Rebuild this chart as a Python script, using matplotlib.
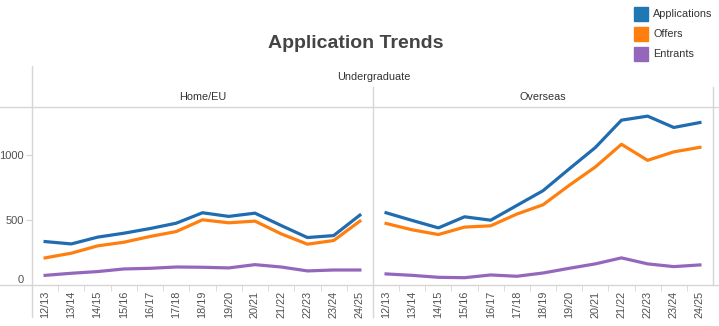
import matplotlib.pyplot as plt
from matplotlib.lines import Line2D
from matplotlib.patches import Rectangle

plt.rcParams['font.family'] = ['Liberation Sans', 'DejaVu Sans']

years = ['12/13', '13/14', '14/15', '15/16', '16/17', '17/18', '18/19',
         '19/20', '20/21', '21/22', '22/23', '23/24', '24/25']

home_applications = [333, 315, 367, 397, 433, 474, 554, 526, 551, 456, 364, 379, 536]
home_offers = [208, 244, 300, 328, 372, 410, 500, 477, 490, 392, 313, 341, 490]
home_entrants = [74, 90, 103, 123, 128, 138, 136, 131, 156, 138, 108, 115, 115]

overseas_applications = [554, 495, 438, 523, 497, 610, 723, 890, 1054, 1264, 1295, 1208, 1246]
overseas_offers = [472, 423, 387, 444, 454, 544, 615, 764, 905, 1079, 956, 1021, 1056]
overseas_entrants = [85, 74, 59, 56, 77, 67, 92, 128, 162, 208, 162, 141, 154]

series_names = ['Applications', 'Offers', 'Entrants']
colors = ['#1f6cb0', '#ff7f0e', '#9467bd']
legend_colors = ['#1f77b4', '#ff7f0e', '#9467bd']

W, H = 719, 326
fig = plt.figure(figsize=(W / 100, H / 100), dpi=100)
grid = '#d6d6d6'
txt = '#333333'


def fx(px):
    return px / W


def fy(py):
    return 1 - py / H


panels = [
    ('Home/EU', 32, 373, [home_applications, home_offers, home_entrants]),
    ('Overseas', 373, 713, [overseas_applications, overseas_offers, overseas_entrants]),
]

for i, (name, x0, x1, data) in enumerate(panels):
    ax = fig.add_axes([fx(x0), fy(285), fx(x1 - x0), fy(107) - fy(285)])
    xs = list(range(len(years)))
    for vals, c in zip(data, colors):
        ax.plot(xs, vals, color=c, lw=2.3, solid_joinstyle='round')
    ax.set_xlim(-0.5, len(years) - 0.5)
    ax.set_ylim(0, 1365)
    for s in ax.spines.values():
        s.set_visible(False)
    ax.set_xticks(xs)
    ax.set_xticklabels(years, rotation=90, fontsize=7.8, color='#505050')
    ax.tick_params(axis='x', length=0, pad=4)
    ax.set_xticks([x + 0.5 for x in xs[:-1]], minor=True)
    ax.tick_params(axis='x', which='minor', length=4, color=grid, direction='out')
    if i == 0:
        ax.set_yticks([0, 500, 1000])
        ax.set_yticklabels(['0', '500', '1000'], fontsize=8, color='#505050')
        ax.tick_params(axis='y', length=4, color=grid, pad=2)
        ax.get_yticklabels()[0].set_va('bottom')
    else:
        ax.set_yticks([])
    ax.patch.set_alpha(0)
    fig.text(fx((x0 + x1) / 2), fy(97), name, ha='center', va='center',
             fontsize=7.8, color=txt)

# frame lines
fig.add_artist(Line2D([0, 1], [fy(107), fy(107)], color=grid, lw=1))
fig.add_artist(Line2D([0, 1], [fy(285), fy(285)], color=grid, lw=1))
fig.add_artist(Line2D([fx(32), fx(32)], [fy(66), fy(317)], color=grid, lw=1))
fig.add_artist(Line2D([fx(373), fx(373)], [fy(87), fy(317)], color=grid, lw=1))
fig.add_artist(Line2D([fx(713), fx(713)], [fy(87), fy(285)], color=grid, lw=1))

fig.text(fx(374), fy(77), 'Undergraduate', ha='center', va='center',
         fontsize=7.8, color=txt)
fig.text(fx(356), fy(44), 'Application Trends', ha='center', va='center',
         fontsize=14, fontweight='bold', color='#444444')

# legend
for k, (nm, c) in enumerate(zip(series_names, legend_colors)):
    yc = 14 + 20 * k
    fig.add_artist(Rectangle((fx(634), fy(yc + 7)), fx(14), fy(yc - 7) - fy(yc + 7),
                             color=c, transform=fig.transFigure))
    fig.text(fx(653), fy(yc), nm, ha='left', va='center', fontsize=7.8, color=txt)

fig.savefig('out.png', dpi=100)
